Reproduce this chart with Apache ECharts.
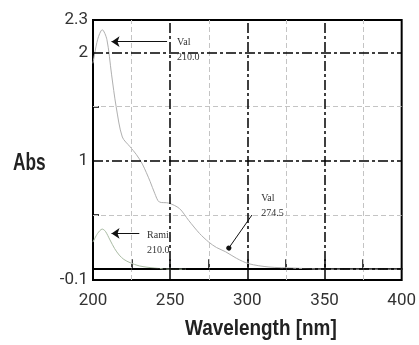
<!DOCTYPE html>
<html>
<head>
<meta charset="utf-8">
<script src="https://cdn.jsdelivr.net/npm/echarts@6/dist/echarts.min.js"></script>
<style>
  html, body { margin: 0; padding: 0; background: #fff; }
  #chart { width: 419px; height: 345px; }
</style>
</head>
<body>
<div id="chart"></div>
<script>
// spectra
const valWave = [200, 203, 206, 209, 212, 215, 219, 224, 228, 232, 237, 240, 243, 249, 256, 262, 269, 275, 280, 286, 293, 301, 314, 330, 350, 375, 400];
const valAbs = [1.9, 2.12, 2.21, 2.12, 1.8, 1.5, 1.22, 1.13, 1.06, 0.97, 0.81, 0.7, 0.62, 0.61, 0.56, 0.45, 0.33, 0.25, 0.2, 0.16, 0.1, 0.05, 0.02, 0.01, 0.0, 0.0, 0.0];
const ramiWave = [200, 203, 206, 208, 211, 214, 217, 220, 224, 230, 240, 250, 260];
const ramiAbs = [0.25, 0.33, 0.37, 0.35, 0.27, 0.19, 0.13, 0.09, 0.06, 0.03, 0.01, 0.0, 0.0];

// axis ticks and grid
const xLabels = [200, 250, 300, 350, 400];
const xTicks = [225, 250, 275, 300, 325, 350, 375];
const yLabels = [-0.1, 1, 2, 2.3];
const yTicks = [0.5, 1.5];
const xMajor = [250, 300, 350];
const xMinor = [225, 275, 325, 375];
const yMajor = [0, 1, 2];
const yMinor = [0.5, 1.5];

// annotations: arrow [from, to] and text anchor
const arrows = [
  { from: [248, 2.1], to: [212, 2.1], head: 'arrow' },
  { from: [230, 0.33], to: [212, 0.33], head: 'arrow' },
  { from: [303, 0.5], to: [288, 0.195], head: 'circle' },
];
const notes = [
  { at: [254.5, 2.02], text: 'Val\n210.0' },
  { at: [235, 0.24], text: 'Rami\n210.0' },
  { at: [309, 0.58], text: 'Val\n274.5' },
];

const pairs = (xs, ys) => xs.map((x, i) => [x, ys[i]]);
const labelFont = 'Roboto, "Liberation Sans", sans-serif';
const titleFont = '"Liberation Sans", Arial, sans-serif';
const majorStyle = { color: '#000', width: 1.5, type: [10, 3, 3, 3] };
const minorStyle = { color: '#c4c4c4', width: 1, type: [5, 3] };

const gridLines = []
  .concat(xMinor.map((v) => ({ xAxis: v, lineStyle: minorStyle })))
  .concat(yMinor.map((v) => ({ yAxis: v, lineStyle: minorStyle })))
  .concat(xMajor.map((v) => ({ xAxis: v, lineStyle: majorStyle })))
  .concat(yMajor.map((v) => ({ yAxis: v, lineStyle: majorStyle })));

const chart = echarts.init(document.getElementById('chart'), null, { renderer: 'canvas' });

chart.setOption({
  animation: false,
  backgroundColor: '#fff',
  grid: { left: 93, right: 15, top: 20, bottom: 65, show: true, borderColor: '#000', borderWidth: 2 },
  xAxis: {
    type: 'value',
    min: 200,
    max: 400,
    splitLine: { show: false },
    axisLine: { lineStyle: { color: '#000', width: 2 } },
    axisTick: { inside: true, length: 10, customValues: xTicks, lineStyle: { color: '#000', width: 1.5 } },
    axisLabel: { customValues: xLabels, margin: 12, color: '#333', fontSize: 17, fontFamily: labelFont },
  },
  yAxis: {
    type: 'value',
    min: -0.1,
    max: 2.3,
    splitLine: { show: false },
    axisLine: { show: true, lineStyle: { color: '#000', width: 2 } },
    axisTick: { inside: true, length: 6, customValues: yTicks, lineStyle: { color: '#000', width: 1.5 } },
    axisLabel: { customValues: yLabels, margin: 5, color: '#333', fontSize: 17, fontFamily: labelFont },
  },
  graphic: [
    { type: 'text', left: 13, top: 151, scaleX: 0.72, style: { text: 'Abs', fontSize: 24, fontWeight: 'bold', fontFamily: titleFont, fill: '#222' } },
    { type: 'text', left: 185, top: 318, scaleX: 0.86, style: { text: 'Wavelength [nm]', fontSize: 22, fontWeight: 'bold', fontFamily: titleFont, fill: '#222' } },
  ],
  series: [
    {
      type: 'line',
      data: [],
      z: 1,
      silent: true,
      markLine: { silent: true, symbol: 'none', label: { show: false }, data: gridLines },
    },
    {
      type: 'line',
      data: pairs(valWave, valAbs),
      smooth: 0.3,
      showSymbol: false,
      z: 3,
      lineStyle: { color: '#b0b0b0', width: 1 },
    },
    {
      type: 'line',
      data: pairs(ramiWave, ramiAbs),
      smooth: 0.3,
      showSymbol: false,
      z: 3,
      lineStyle: { color: '#a9bba3', width: 1 },
      markLine: {
        silent: true,
        label: { show: false },
        data: arrows.map((a) => [
          { coord: a.from, symbol: 'none', lineStyle: { color: '#111', width: 1, type: 'solid' } },
          { coord: a.to, symbol: a.head, symbolSize: a.head === 'circle' ? 5 : 8 },
        ]),
      },
      markPoint: {
        silent: true,
        symbol: 'circle',
        symbolSize: 0,
        label: {
          show: true,
          position: 'right',
          distance: 0,
          align: 'left',
          color: '#333',
          fontSize: 10,
          lineHeight: 15,
          fontFamily: '"Liberation Serif", "DejaVu Serif", serif',
          formatter: (p) => p.data.text,
        },
        data: notes.map((n) => ({ coord: n.at, text: n.text })),
      },
    },
  ],
});

window.addEventListener('resize', chart.resize);
</script>
</body>
</html>
